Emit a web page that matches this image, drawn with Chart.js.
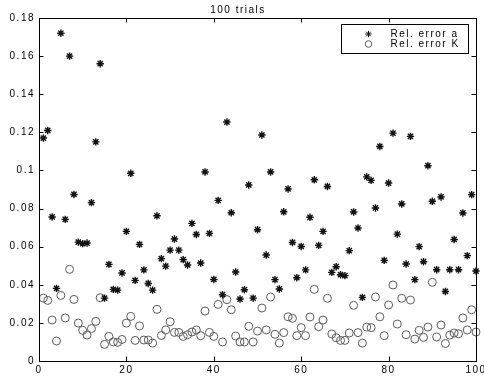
<!DOCTYPE html>
<html>
<head>
<meta charset="utf-8">
<script src="https://cdn.jsdelivr.net/npm/chart.js@4.4.1/dist/chart.umd.min.js"></script>
<style>
  html, body { margin: 0; padding: 0; background: #fff; }
  #wrap { width: 484px; height: 379px; }
</style>
</head>
<body>
<div id="wrap"><canvas id="c" width="484" height="379"></canvas></div>
<script>
const titleText = '100 trials';
const seriesNames = ['Rel. error a', 'Rel. error K'];
const trials = [1,2,3,4,5,6,7,8,9,10,11,12,13,14,15,16,17,18,19,20,
  21,22,23,24,25,26,27,28,29,30,31,32,33,34,35,36,37,38,39,40,
  41,42,43,44,45,46,47,48,49,50,51,52,53,54,55,56,57,58,59,60,
  61,62,63,64,65,66,67,68,69,70,71,72,73,74,75,76,77,78,79,80,
  81,82,83,84,85,86,87,88,89,90,91,92,93,94,95,96,97,98,99,100];
const relErrorA = [0.117,0.121,0.0756,0.0381,0.172,0.0743,0.160,0.0874,0.0624,0.0616,
  0.0619,0.0831,0.115,0.156,0.033,0.0507,0.0376,0.0372,0.0462,0.068,
  0.0985,0.0423,0.0612,0.0478,0.0407,0.0372,0.0762,0.0537,0.0498,0.0582,
  0.064,0.0582,0.0532,0.0504,0.0722,0.0664,0.0514,0.0992,0.067,0.0428,
  0.0843,0.0348,0.1254,0.0778,0.0467,0.0325,0.0374,0.0924,0.033,0.0689,
  0.1186,0.0556,0.0992,0.0427,0.0378,0.0783,0.0903,0.0622,0.0437,0.0601,
  0.0478,0.0754,0.0951,0.0607,0.068,0.0916,0.0465,0.0495,0.0453,0.0448,
  0.0579,0.0782,0.0698,0.0334,0.0966,0.0948,0.0803,0.1126,0.0528,0.0934,
  0.1196,0.0666,0.0824,0.0509,0.1179,0.0427,0.06,0.0521,0.1025,0.0838,
  0.0479,0.0861,0.0365,0.0479,0.0638,0.0479,0.0777,0.0553,0.0873,0.0472];
const relErrorK = [0.033,0.0318,0.0215,0.0105,0.0344,0.0226,0.0481,0.0323,0.0199,0.0161,
  0.0136,0.017,0.0208,0.0332,0.0087,0.0129,0.01,0.0098,0.0113,0.0199,
  0.0234,0.0108,0.0184,0.011,0.011,0.0094,0.0271,0.0134,0.0163,0.0206,
  0.015,0.015,0.0129,0.0138,0.0152,0.0163,0.0133,0.0262,0.015,0.0129,
  0.0297,0.01,0.0322,0.0269,0.0131,0.01,0.01,0.0182,0.01,0.0157,
  0.0278,0.0163,0.0336,0.014,0.0094,0.0149,0.0232,0.0224,0.0133,0.0175,
  0.0133,0.0231,0.0376,0.018,0.0215,0.0329,0.0142,0.0122,0.0108,0.0108,
  0.0147,0.0292,0.0149,0.0094,0.0178,0.0175,0.0336,0.0232,0.0133,0.0294,
  0.0399,0.0194,0.0329,0.0138,0.032,0.0115,0.0161,0.0124,0.0178,0.0413,
  0.0126,0.0189,0.0092,0.0136,0.0147,0.0143,0.0226,0.0163,0.0269,0.0152];
const xTicks = [0,20,40,60,80,100];
const xTickLabels = ['0','20','40','60','80','100'];
const yTicks = [0,0.02,0.04,0.06,0.08,0.1,0.12,0.14,0.16,0.18];
const yTickLabels = ['0','0.02','0.04','0.06','0.08','0.1','0.12','0.14','0.16','0.18'];

const FONT = 'Liberation Sans, Arial, Helvetica, sans-serif';
const SPACING = '1.5px';

const spacingPlugin = {
  id: 'spacing',
  beforeUpdate(chart) { chart.ctx.letterSpacing = SPACING; },
  beforeLayout(chart) { chart.ctx.letterSpacing = SPACING; },
  beforeDraw(chart) { chart.ctx.letterSpacing = SPACING; }
};

const boxPlugin = {
  id: 'matlabBox',
  afterDatasetsDraw(chart) {
    const ctx = chart.ctx;
    const a = chart.chartArea;
    const xs = chart.scales.x, ys = chart.scales.y;
    const L = 4.5;
    ctx.save();
    ctx.strokeStyle = '#000';
    ctx.lineWidth = 1;
    ctx.strokeRect(Math.round(a.left) + 0.5, Math.round(a.top) + 0.5,
      Math.round(a.right - a.left), Math.round(a.bottom - a.top));
    ctx.beginPath();
    xTicks.forEach(v => {
      const px = Math.round(xs.getPixelForValue(v)) + 0.5;
      ctx.moveTo(px, a.bottom); ctx.lineTo(px, a.bottom - L);
      ctx.moveTo(px, a.top); ctx.lineTo(px, a.top + L);
    });
    yTicks.forEach(v => {
      const py = Math.round(ys.getPixelForValue(v)) + 0.5;
      ctx.moveTo(a.left, py); ctx.lineTo(a.left + L, py);
      ctx.moveTo(a.right, py); ctx.lineTo(a.right - L, py);
    });
    ctx.stroke();
    ctx.restore();
  },
  afterDraw(chart) {
    const ctx = chart.ctx;
    const a = chart.chartArea;
    const bw = 127, bh = 29;
    const bx = Math.round(a.right - 8 - bw) + 0.5;
    const by = Math.round(a.top + 6) + 0.5;
    ctx.save();
    ctx.letterSpacing = SPACING;
    ctx.fillStyle = '#fff';
    ctx.fillRect(bx, by, bw, bh);
    ctx.strokeStyle = '#000';
    ctx.lineWidth = 1;
    ctx.strokeRect(bx, by, bw, bh);
    chart.data.datasets.forEach((ds, i) => {
      const cy = by + 9.5 + i * 10;
      ctx.strokeStyle = ds.borderColor;
      ctx.fillStyle = 'rgba(0,0,0,0)';
      Chart.helpers.drawPoint(ctx, {
        pointStyle: ds.pointStyle, radius: i === 0 ? 3.2 : 3.3,
        borderWidth: ds.borderWidth, rotation: 0
      }, bx + 27, cy);
      ctx.fillStyle = '#000';
      ctx.font = '10px ' + FONT;
      ctx.textBaseline = 'middle';
      ctx.textAlign = 'left';
      ctx.fillText(ds.label, bx + 49, cy);
    });
    ctx.restore();
  }
};

new Chart(document.getElementById('c'), {
  type: 'scatter',
  data: {
    datasets: [
      {
        label: seriesNames[0],
        data: trials.map((t, i) => ({ x: t, y: relErrorA[i] })),
        pointStyle: 'star',
        pointRadius: 3.7,
        borderColor: '#111',
        backgroundColor: '#111',
        borderWidth: 1.4,
        clip: false
      },
      {
        label: seriesNames[1],
        data: trials.map((t, i) => ({ x: t, y: relErrorK[i] })),
        pointStyle: 'circle',
        pointRadius: 4,
        borderColor: '#5a5a5a',
        backgroundColor: 'rgba(0,0,0,0)',
        borderWidth: 1,
        clip: false
      }
    ]
  },
  options: {
    responsive: false,
    animation: false,
    events: [],
    layout: { padding: { left: 0, right: 8, top: 0, bottom: 0 } },
    plugins: {
      legend: { display: false },
      tooltip: { enabled: false },
      title: {
        display: true,
        text: titleText,
        color: '#000',
        font: { family: FONT, size: 10, weight: 'normal', lineHeight: 1.2 },
        padding: { top: 4, bottom: 2 }
      }
    },
    scales: {
      x: {
        type: 'linear',
        min: 0, max: 100,
        afterBuildTicks: s => { s.ticks = xTicks.map(v => ({ value: v })); },
        afterFit: s => { s.height = 18; s.paddingRight = 8; s.paddingLeft = 0; },
        grid: { display: true, drawOnChartArea: false, drawTicks: false },
        border: { display: false },
        ticks: {
          color: '#000', padding: 3, maxRotation: 0, autoSkip: false,
          font: { family: FONT, size: 10 },
          callback: (v, i) => xTickLabels[i]
        }
      },
      y: {
        type: 'linear',
        min: 0, max: 0.18,
        afterBuildTicks: s => { s.ticks = yTicks.map(v => ({ value: v })); },
        afterFit: s => { s.width = 39; },
        grid: { display: true, drawOnChartArea: false, drawTicks: false },
        border: { display: false },
        ticks: {
          color: '#000', padding: 4, autoSkip: false,
          font: { family: FONT, size: 10 },
          callback: (v, i) => yTickLabels[i]
        }
      }
    }
  },
  plugins: [spacingPlugin, boxPlugin]
});
</script>
</body>
</html>
